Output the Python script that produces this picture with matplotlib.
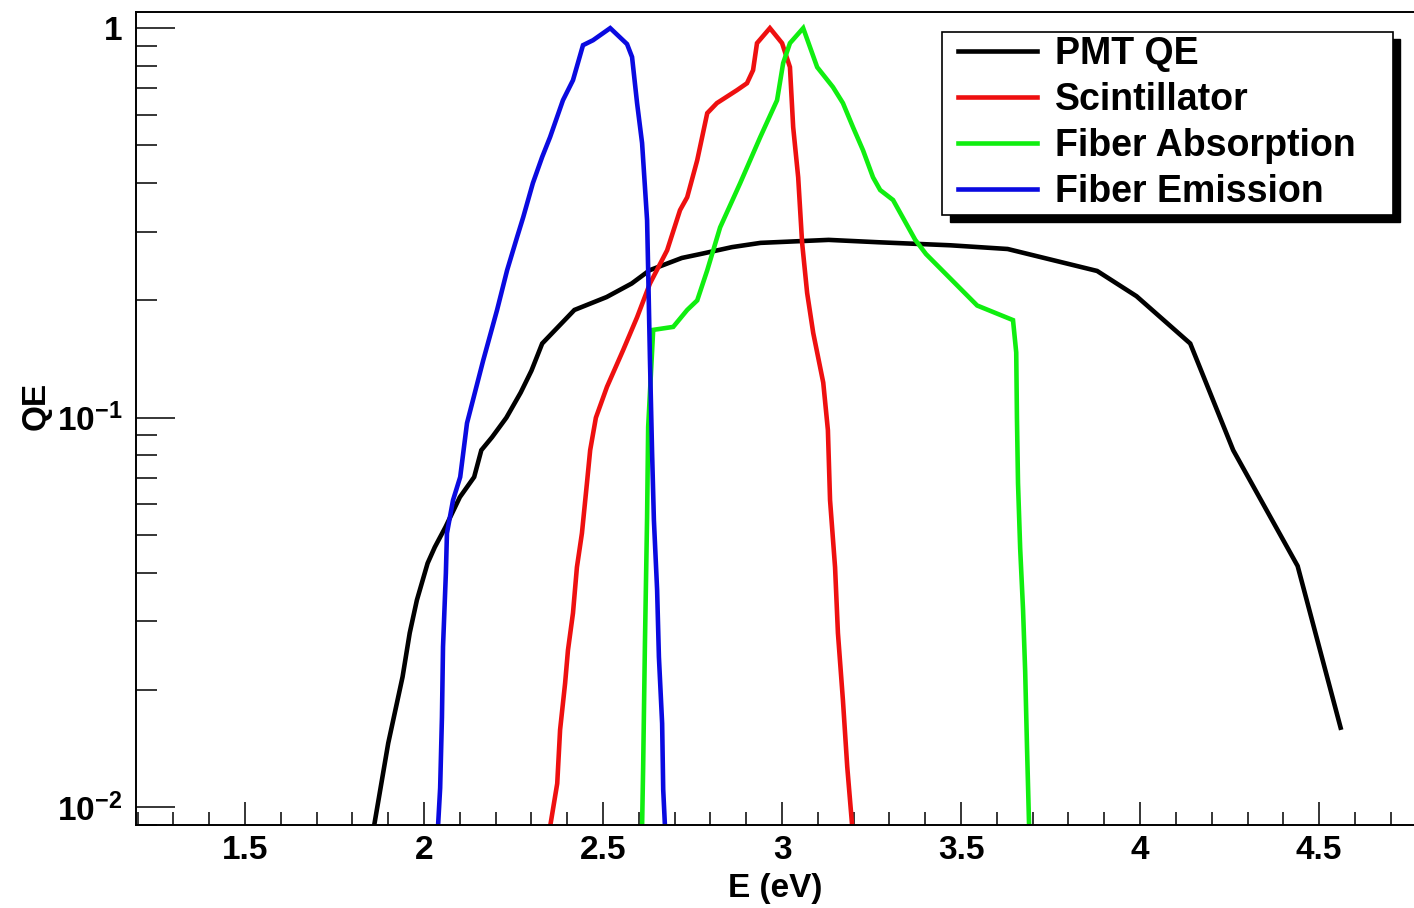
import matplotlib
matplotlib.use('Agg')
import matplotlib.pyplot as plt
from matplotlib.patches import Rectangle
from matplotlib.ticker import MultipleLocator, FixedLocator, FixedFormatter, LogLocator, NullFormatter

# PMT quantum efficiency
pmt_e = [1.86, 1.90, 1.94, 1.96, 1.98, 2.01, 2.03, 2.06, 2.10, 2.14, 2.16, 2.19,
         2.23, 2.27, 2.30, 2.33, 2.42, 2.51, 2.58, 2.63, 2.72, 2.78, 2.86, 2.94,
         3.13, 3.27, 3.47, 3.63, 3.88, 3.99, 4.14, 4.26, 4.44, 4.56]
pmt_qe = [0.0089, 0.0146, 0.0216, 0.028, 0.034, 0.0423, 0.0465, 0.0524, 0.0625,
          0.0704, 0.0825, 0.0891, 0.100, 0.116, 0.132, 0.155, 0.189, 0.204, 0.221,
          0.239, 0.257, 0.264, 0.274, 0.281, 0.286, 0.282, 0.277, 0.271, 0.238,
          0.205, 0.155, 0.0825, 0.0416, 0.0160]

# scintillator emission
scint_e = [2.352, 2.372, 2.380, 2.394, 2.402, 2.416, 2.427, 2.441, 2.455, 2.464,
           2.480, 2.511, 2.556, 2.595, 2.631, 2.679, 2.715, 2.735, 2.763, 2.791,
           2.818, 2.874, 2.902, 2.919, 2.930, 2.966, 3.000, 3.022, 3.031, 3.045,
           3.056, 3.070, 3.087, 3.115, 3.128, 3.134, 3.148, 3.156, 3.170, 3.182, 3.196]
scint_qe = [0.0089, 0.0115, 0.0158, 0.0208, 0.0253, 0.0315, 0.0413, 0.0505, 0.0679,
            0.0825, 0.100, 0.120, 0.149, 0.181, 0.221, 0.269, 0.341, 0.368, 0.458,
            0.605, 0.642, 0.693, 0.722, 0.780, 0.915, 1.0, 0.915, 0.794, 0.557,
            0.414, 0.281, 0.209, 0.165, 0.123, 0.0929, 0.0614, 0.0413, 0.0280,
            0.0188, 0.0127, 0.0089]

# fibre absorption
abs_e = [2.609, 2.612, 2.617, 2.623, 2.626, 2.631, 2.640, 2.696, 2.735, 2.763,
         2.791, 2.827, 2.883, 2.939, 2.986, 3.003, 3.022, 3.059, 3.098, 3.142,
         3.170, 3.198, 3.226, 3.254, 3.274, 3.310, 3.372, 3.402, 3.545, 3.645,
         3.654, 3.656, 3.659, 3.665, 3.673, 3.679, 3.684, 3.690]
abs_qe = [0.0089, 0.0127, 0.0264, 0.0555, 0.0946, 0.116, 0.168, 0.171, 0.189, 0.200,
          0.239, 0.308, 0.400, 0.525, 0.653, 0.813, 0.915, 1.0, 0.794, 0.706,
          0.642, 0.557, 0.486, 0.414, 0.384, 0.362, 0.286, 0.263, 0.194, 0.178,
          0.147, 0.100, 0.0679, 0.0462, 0.0322, 0.0223, 0.0144, 0.0089]

# fibre emission
emis_e = [2.039, 2.045, 2.050, 2.053, 2.061, 2.064, 2.081, 2.101, 2.120, 2.165,
          2.204, 2.232, 2.260, 2.277, 2.304, 2.330, 2.352, 2.388, 2.416, 2.444,
          2.472, 2.520, 2.567, 2.581, 2.595, 2.609, 2.617, 2.623, 2.626, 2.631,
          2.637, 2.642, 2.651, 2.656, 2.665, 2.668, 2.673]
emis_qe = [0.0089, 0.0112, 0.0170, 0.0258, 0.0399, 0.0505, 0.0614, 0.0704, 0.0968,
           0.140, 0.189, 0.239, 0.291, 0.327, 0.400, 0.467, 0.525, 0.653, 0.735,
           0.904, 0.931, 1.0, 0.910, 0.843, 0.642, 0.507, 0.391, 0.321, 0.239,
           0.141, 0.081, 0.0546, 0.0361, 0.0243, 0.0164, 0.0111, 0.0089]

series = [
    ('PMT QE', pmt_e, pmt_qe, 'black'),
    ('Scintillator', scint_e, scint_qe, '#ee1010'),
    ('Fiber Absorption', abs_e, abs_qe, '#10ee10'),
    ('Fiber Emission', emis_e, emis_qe, '#0a0ae0'),
]

y_tick_vals = [0.01, 0.1, 1]
y_tick_labels = [r'$\mathbf{10^{-2}}$', r'$\mathbf{10^{-1}}$', '1']

plt.rcParams['font.family'] = ['Liberation Sans', 'DejaVu Sans']
plt.rcParams['font.weight'] = 'bold'
plt.rcParams['mathtext.fontset'] = 'custom'
plt.rcParams['mathtext.bf'] = 'Liberation Sans:bold'
plt.rcParams['mathtext.rm'] = 'Liberation Sans:bold'

W, H = 1414, 908
fig = plt.figure(figsize=(W / 100, H / 100), dpi=100)
ax = fig.add_axes([136 / W, 83 / H, 1278 / W, 813 / H])

handles = []
for name, xs, ys, col in series:
    h, = ax.plot(xs, ys, color=col, lw=3.3, label=name, solid_joinstyle='miter')
    handles.append(h)

ax.set_yscale('log')
ax.set_xlim(1.1955, 4.765)
ax.set_ylim(0.0090, 1.10)

ax.xaxis.set_major_locator(MultipleLocator(0.5))
ax.xaxis.set_minor_locator(MultipleLocator(0.1))
ax.xaxis.set_major_formatter(plt.FuncFormatter(lambda v, p: f'{v:g}'))
ax.yaxis.set_major_locator(FixedLocator(y_tick_vals))
ax.yaxis.set_major_formatter(FixedFormatter(y_tick_labels))
ax.yaxis.set_minor_locator(LogLocator(base=10, subs=range(2, 10)))
ax.yaxis.set_minor_formatter(NullFormatter())

ax.tick_params(axis='x', which='major', direction='in', length=16.5, width=1.1,
               labelsize=24, pad=7, top=False)
ax.tick_params(axis='x', which='minor', direction='in', length=9.4, width=1.1, top=False)
ax.tick_params(axis='y', which='major', direction='in', length=28, width=1.1,
               labelsize=24, pad=10, right=False)
ax.tick_params(axis='y', which='minor', direction='in', length=15, width=1.1, right=False)

for s in ['left', 'bottom', 'top']:
    ax.spines[s].set_linewidth(1.4)
ax.spines['right'].set_visible(False)

ax.set_xlabel('E (eV)', fontsize=24, fontweight='bold', labelpad=5)
ax.set_ylabel('QE', fontsize=24, fontweight='bold')
ax.yaxis.set_label_coords(-0.066, 0.515)

# legend frame with a ROOT style shadow
fig.add_artist(Rectangle((950 / W, 1 - 222 / H), 450 / W, 183 / H, transform=fig.transFigure,
                         facecolor='black', edgecolor='black', zorder=4))
fig.add_artist(Rectangle((942 / W, 1 - 215 / H), 451 / W, 183 / H, transform=fig.transFigure,
                         facecolor='white', edgecolor='black', lw=1.2, zorder=4.5))
leg = fig.legend(handles=handles, loc='upper left', bbox_to_anchor=(958 / W, 1 - 36 / H),
                 frameon=False, fontsize=27, borderpad=0, borderaxespad=0,
                 handlelength=2.1, handletextpad=0.48, labelspacing=0.27)
leg.set_zorder(6)

fig.savefig('out.png', dpi=100)
